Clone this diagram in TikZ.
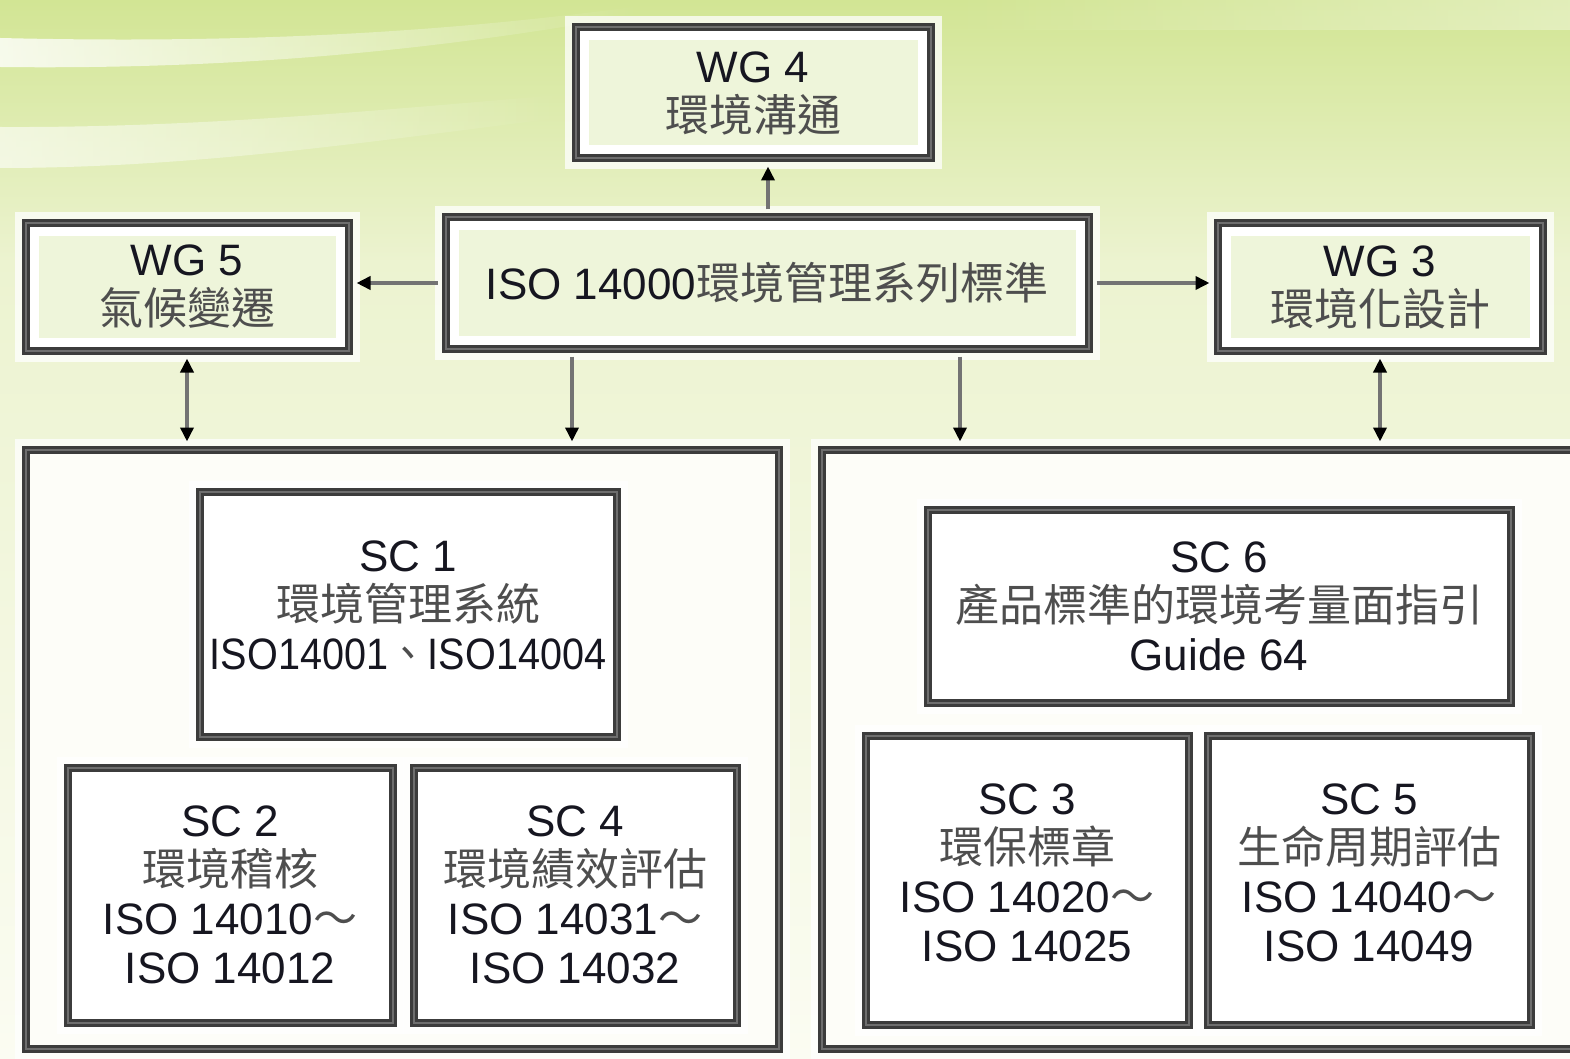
\documentclass[tikz,border=0pt]{standalone}
\usepackage{fontspec}
\usepackage{graphicx}
\setmainfont{Liberation Sans}
\newfontfamily\cjk{Noto Sans CJK TC}
\usetikzlibrary{arrows.meta,fadings}
\definecolor{bgA}{RGB}{210,229,148}
\definecolor{bgB}{RGB}{236,243,208}
\definecolor{bgC}{RGB}{251,252,242}
\definecolor{boxline}{RGB}{60,60,60}
\definecolor{boxmid}{RGB}{110,110,110}
\definecolor{innergreen}{RGB}{238,245,218}
\definecolor{contfill}{RGB}{253,253,248}
\definecolor{cjkgray}{RGB}{78,78,78}
\definecolor{latin}{RGB}{22,22,32}
\definecolor{conn}{RGB}{115,115,115}
\newcommand{\zh}[1]{{\cjk\color{cjkgray}#1}}
\tikzset{
  box/.style={draw=boxline, line width=8pt, fill=white, inner sep=0pt, align=center,
    text=latin, font=\fontsize{44}{49}\selectfont,
    preaction={draw=white, line width=22pt, opacity=0.75},
    postaction={draw=boxmid, line width=2pt}},
  greenbox/.style={box, path picture={\fill[innergreen]
      ([shift={(13pt,-13pt)}]path picture bounding box.north west) rectangle
      ([shift={(-13pt,13pt)}]path picture bounding box.south east);}},
  container/.style={box, fill=contfill},
  conn/.style={draw=conn, line width=3.5pt, shorten >=4pt, shorten <=4pt,
    -{Triangle[length=14pt,width=13pt,color=black,fill=black]}},
  conn2/.style={conn, {Triangle[length=14pt,width=13pt,color=black,fill=black]}-{Triangle[length=14pt,width=13pt,color=black,fill=black]}}
}
\begin{document}
\begin{tikzpicture}[x=1pt,y=-1pt]
\useasboundingbox (0,0) rectangle (1570,1059);
% background
\fill[top color=bgA, bottom color=bgB] (0,0) rectangle (1570,262);
\fill[top color=bgB, bottom color=bgC] (0,260) rectangle (1570,1059);
\fill[white, opacity=0.8, path fading=east] (0,38) .. controls (250,44) and (450,32) .. (640,6) -- (640,14) .. controls (450,48) and (250,70) .. (0,67) -- cycle;
\fill[white, opacity=0.6, path fading=east] (0,127) .. controls (200,128) and (380,110) .. (560,95) -- (560,118) .. controls (380,140) and (200,168) .. (0,168) -- cycle;
\fill[white, opacity=0.35, path fading=west] (950,0) rectangle (1570,30);

% top row
\node[greenbox, minimum width=355pt, minimum height=131pt] (wg4) at (753,93) {WG 4\\\zh{環境溝通}};
\node[greenbox, minimum width=643pt, minimum height=131pt] (iso) at (767,283) {ISO 14000\zh{環境管理系列標準}};
\node[greenbox, minimum width=323pt, minimum height=127pt] (wg5) at (187,287) {WG 5\\\zh{氣候變遷}};
\node[greenbox, minimum width=325pt, minimum height=127pt] (wg3) at (1380,287) {WG 3\\\zh{環境化設計}};

% containers
\node[container, minimum width=753pt, minimum height=599pt] (lc) at (402,749) {};
\node[container, minimum width=755pt, minimum height=599pt] (rc) at (1199,749) {};

% left sub-committees
\node[box, minimum width=417pt, minimum height=245pt, text depth=18pt] (sc1) at (408,614) {SC 1\\\zh{環境管理系統}\\\scalebox{0.9}[1]{ISO14001\zh{、}ISO14004}};
\node[box, minimum width=325pt, minimum height=255pt] (sc2) at (230,895) {SC 2\\\zh{環境稽核}\\ISO 14010\zh{～}\\ISO 14012};
\node[box, minimum width=323pt, minimum height=255pt] (sc4) at (575,895) {SC 4\\\zh{環境績效評估}\\ISO 14031\zh{～}\\ISO 14032};

% right sub-committees
\node[box, minimum width=583pt, minimum height=193pt] (sc6) at (1219,606) {SC 6\\\zh{產品標準的環境考量面指引}\\Guide 64};
\node[box, minimum width=323pt, minimum height=289pt, text depth=14pt] (sc3) at (1027,880) {SC 3\\\zh{環保標章}\\ISO 14020\zh{～}\\ISO 14025};
\node[box, minimum width=323pt, minimum height=289pt, text depth=14pt] (sc5) at (1369,880) {SC 5\\\zh{生命周期評估}\\ISO 14040\zh{～}\\ISO 14049};

% connectors
\draw[conn] ([xshift=1pt]iso.north) -- ([xshift=1pt]iso.north |- wg4.south);
\draw[conn] (iso.west) -- (iso.west -| wg5.east);
\draw[conn] (iso.east) -- (iso.east -| wg3.west);
\draw[conn] ([xshift=-195pt]iso.south) -- ([xshift=-195pt]iso.south |- lc.north);
\draw[conn] ([xshift=193pt]iso.south) -- ([xshift=193pt]iso.south |- rc.north);
\draw[conn2] (wg5.south) -- (wg5.south |- lc.north);
\draw[conn2] (wg3.south) -- (wg3.south |- rc.north);
\end{tikzpicture}
\end{document}
